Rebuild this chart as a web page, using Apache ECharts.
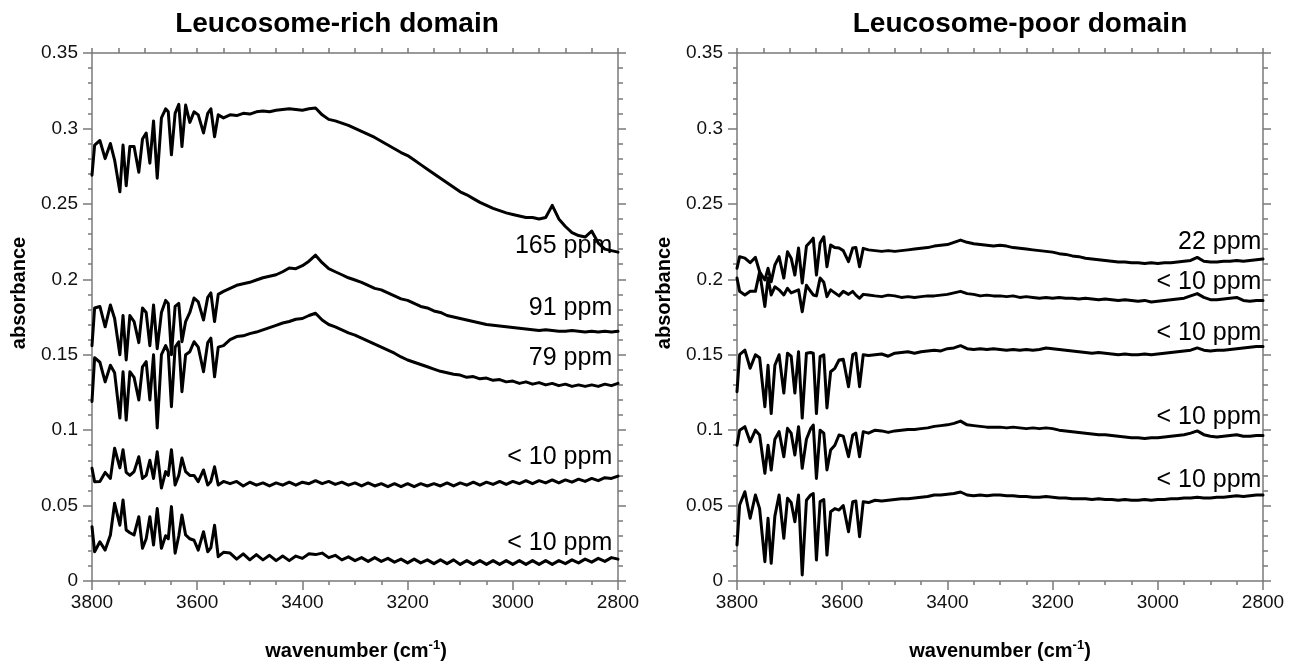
<!DOCTYPE html>
<html>
<head>
<meta charset="utf-8">
<script src="https://cdn.jsdelivr.net/npm/echarts@6/dist/echarts.min.js"></script>
<style>
html,body{margin:0;padding:0;background:#fff;}
#chart{width:1296px;height:664px;}
</style>
</head>
<body>
<div id="chart"></div>
<script>
// Wavenumber grid (cm-1): dense in the water-vapour region, then every 12.5 cm-1
const wavenumber = [
  3800, 3795, 3785, 3775, 3765, 3757, 3747, 3741, 3735, 3728, 3720, 3711, 3704, 3697, 3690, 3683, 3676,
  3668, 3660, 3655, 3649, 3642, 3635, 3629, 3622, 3614, 3606, 3598, 3588, 3580, 3574, 3567, 3560, 3550,
  3537.5, 3525, 3512.5, 3500, 3487.5, 3475, 3462.5, 3450, 3437.5, 3425,
  3412.5, 3400, 3387.5, 3375, 3362.5, 3350, 3337.5, 3325, 3312.5, 3300,
  3287.5, 3275, 3262.5, 3250, 3237.5, 3225, 3212.5, 3200, 3187.5, 3175,
  3162.5, 3150, 3137.5, 3125, 3112.5, 3100, 3087.5, 3075, 3062.5, 3050,
  3037.5, 3025, 3012.5, 3000, 2987.5, 2975, 2962.5, 2950, 2937.5, 2925,
  2912.5, 2900, 2887.5, 2875, 2862.5, 2850, 2837.5, 2825, 2812.5, 2800
];

// ---- Leucosome-rich domain ----
const rich165 = [
  0.269, 0.289, 0.292, 0.280, 0.290, 0.279, 0.258, 0.289, 0.262, 0.288, 0.288, 0.271, 0.293, 0.297, 0.277, 0.305, 0.267,
  0.307, 0.313, 0.311, 0.2825, 0.310, 0.316, 0.288, 0.3155, 0.304, 0.311, 0.309, 0.297, 0.310, 0.313, 0.2945, 0.309, 0.307,
  0.309, 0.3085, 0.310, 0.3095, 0.311, 0.3115, 0.311, 0.312, 0.3125, 0.313,
  0.3125, 0.312, 0.313, 0.3135, 0.309, 0.306, 0.305, 0.3035, 0.302, 0.300,
  0.298, 0.296, 0.294, 0.2915, 0.289, 0.2865, 0.284, 0.282, 0.279, 0.276,
  0.273, 0.270, 0.267, 0.264, 0.261, 0.258, 0.256, 0.2535, 0.251, 0.249,
  0.247, 0.2455, 0.244, 0.243, 0.242, 0.241, 0.241, 0.240, 0.241, 0.249,
  0.240, 0.235, 0.231, 0.229, 0.228, 0.232, 0.224, 0.220, 0.219, 0.218
];
const rich91 = [
  0.156, 0.181, 0.182, 0.1685, 0.183, 0.174, 0.150, 0.176, 0.1465, 0.176, 0.172, 0.158, 0.181, 0.178, 0.156, 0.183, 0.154,
  0.178, 0.186, 0.184, 0.150, 0.182, 0.184, 0.1586, 0.172, 0.178, 0.1876, 0.185, 0.173, 0.188, 0.191, 0.172, 0.190, 0.192,
  0.194, 0.196, 0.197, 0.198, 0.1995, 0.201, 0.202, 0.203, 0.205, 0.2075,
  0.207, 0.209, 0.212, 0.216, 0.211, 0.207, 0.205, 0.203, 0.201, 0.1995,
  0.198, 0.196, 0.194, 0.193, 0.191, 0.189, 0.187, 0.186, 0.184, 0.182,
  0.181, 0.179, 0.178, 0.176, 0.175, 0.174, 0.173, 0.172, 0.171, 0.170,
  0.1695, 0.169, 0.1685, 0.168, 0.1675, 0.167, 0.1665, 0.166, 0.1665, 0.166,
  0.1655, 0.1655, 0.166, 0.1655, 0.165, 0.1655, 0.165, 0.1655, 0.165, 0.1655
];
const rich79 = [
  0.119, 0.148, 0.145, 0.132, 0.143, 0.138, 0.108, 0.1387, 0.1067, 0.1387, 0.135, 0.120, 0.142, 0.1454, 0.120, 0.150, 0.1015,
  0.150, 0.156, 0.152, 0.1155, 0.155, 0.1586, 0.1255, 0.150, 0.152, 0.1586, 0.155, 0.1387, 0.158, 0.161, 0.1354, 0.155, 0.156,
  0.160, 0.162, 0.1625, 0.164, 0.165, 0.1665, 0.168, 0.1695, 0.171, 0.172,
  0.1735, 0.174, 0.176, 0.1775, 0.173, 0.170, 0.1685, 0.1665, 0.1645, 0.163,
  0.161, 0.159, 0.157, 0.155, 0.153, 0.151, 0.1485, 0.1465, 0.145, 0.1435,
  0.142, 0.1405, 0.139, 0.138, 0.137, 0.1365, 0.135, 0.1355, 0.134, 0.1345,
  0.133, 0.1335, 0.132, 0.1325, 0.131, 0.132, 0.1305, 0.1315, 0.130, 0.131,
  0.1295, 0.1305, 0.129, 0.130, 0.129, 0.130, 0.129, 0.1305, 0.1295, 0.131
];
const richLowA = [
  0.0747, 0.0658, 0.066, 0.072, 0.068, 0.088, 0.075, 0.087, 0.072, 0.070, 0.0725, 0.0824, 0.068, 0.070, 0.080, 0.068, 0.0857,
  0.0616, 0.0725, 0.070, 0.087, 0.0636, 0.070, 0.0815, 0.0725, 0.070, 0.070, 0.0658, 0.0736, 0.0636, 0.066, 0.0757, 0.0636, 0.066,
  0.0645, 0.066, 0.063, 0.0655, 0.0635, 0.065, 0.063, 0.065, 0.0635, 0.0655,
  0.0635, 0.0655, 0.0645, 0.0665, 0.0645, 0.066, 0.064, 0.0655, 0.0635, 0.065,
  0.063, 0.065, 0.063, 0.0645, 0.0625, 0.0645, 0.0625, 0.0645, 0.0625, 0.0645,
  0.063, 0.0645, 0.063, 0.065, 0.063, 0.065, 0.0635, 0.0655, 0.0635, 0.0655,
  0.064, 0.066, 0.064, 0.066, 0.0645, 0.0665, 0.0645, 0.0665, 0.065, 0.067,
  0.065, 0.067, 0.0655, 0.0675, 0.066, 0.068, 0.0665, 0.0685, 0.068, 0.0695
];
const richLowB = [
  0.036, 0.0194, 0.026, 0.0205, 0.0305, 0.0515, 0.037, 0.0537, 0.0338, 0.032, 0.0305, 0.0426, 0.0217, 0.028, 0.0426, 0.0239, 0.048,
  0.0217, 0.030, 0.028, 0.0493, 0.0184, 0.030, 0.0437, 0.0305, 0.028, 0.027, 0.0205, 0.0327, 0.0194, 0.022, 0.037, 0.0161, 0.019,
  0.0185, 0.0145, 0.018, 0.014, 0.0175, 0.014, 0.017, 0.0135, 0.0165, 0.0135,
  0.0165, 0.015, 0.018, 0.0175, 0.0185, 0.0155, 0.017, 0.014, 0.016, 0.0135,
  0.0155, 0.013, 0.0155, 0.013, 0.015, 0.0125, 0.0145, 0.012, 0.0145, 0.012,
  0.014, 0.0115, 0.014, 0.0115, 0.014, 0.011, 0.0135, 0.011, 0.0135, 0.011,
  0.0135, 0.011, 0.0135, 0.011, 0.0135, 0.011, 0.0135, 0.011, 0.0135, 0.011,
  0.0135, 0.0115, 0.014, 0.012, 0.0145, 0.0125, 0.015, 0.013, 0.0155, 0.0145
];

// ---- Leucosome-poor domain ----
const poor22 = [
  0.2073, 0.215, 0.214, 0.211, 0.2145, 0.205, 0.1995, 0.2073, 0.1984, 0.2095, 0.215, 0.2008, 0.2183, 0.214, 0.2028, 0.2207, 0.1975,
  0.222, 0.225, 0.2273, 0.2028, 0.224, 0.2282, 0.2083, 0.2227, 0.221, 0.2207, 0.219, 0.2117, 0.2207, 0.221, 0.2083, 0.2205, 0.2195,
  0.219, 0.2185, 0.219, 0.2185, 0.219, 0.2195, 0.220, 0.2205, 0.221, 0.222,
  0.2225, 0.223, 0.2245, 0.226, 0.2245, 0.2235, 0.223, 0.2225, 0.222, 0.2225,
  0.222, 0.221, 0.2205, 0.220, 0.2195, 0.219, 0.2185, 0.218, 0.217, 0.2165,
  0.2155, 0.215, 0.214, 0.2135, 0.213, 0.2125, 0.212, 0.2115, 0.2115, 0.211,
  0.211, 0.2105, 0.211, 0.2105, 0.211, 0.211, 0.2115, 0.212, 0.2125, 0.2145,
  0.212, 0.2115, 0.2115, 0.212, 0.212, 0.2125, 0.212, 0.2125, 0.213, 0.2135
];
const poorLowA = [
  0.2008, 0.192, 0.1896, 0.192, 0.192, 0.205, 0.182, 0.2008, 0.1896, 0.195, 0.193, 0.1896, 0.194, 0.191, 0.192, 0.193, 0.1785,
  0.196, 0.192, 0.1896, 0.189, 0.2008, 0.198, 0.1885, 0.193, 0.191, 0.189, 0.192, 0.190, 0.192, 0.1895, 0.1874, 0.190, 0.1896,
  0.189, 0.1885, 0.1895, 0.189, 0.188, 0.1885, 0.188, 0.1885, 0.189, 0.189,
  0.1895, 0.190, 0.191, 0.192, 0.1905, 0.190, 0.189, 0.1895, 0.189, 0.189,
  0.1885, 0.189, 0.188, 0.1885, 0.188, 0.1875, 0.188, 0.1875, 0.188, 0.1875,
  0.1875, 0.187, 0.1875, 0.187, 0.1865, 0.187, 0.1865, 0.186, 0.1865, 0.186,
  0.1855, 0.186, 0.185, 0.1855, 0.186, 0.1865, 0.187, 0.1875, 0.189, 0.1905,
  0.188, 0.1865, 0.1865, 0.187, 0.1875, 0.188, 0.186, 0.1855, 0.186, 0.186
];
const poorLowB = [
  0.1255, 0.150, 0.153, 0.141, 0.150, 0.148, 0.1155, 0.143, 0.111, 0.143, 0.150, 0.1246, 0.151, 0.149, 0.1246, 0.152, 0.108,
  0.151, 0.1515, 0.151, 0.111, 0.1487, 0.150, 0.1147, 0.1387, 0.141, 0.1465, 0.147, 0.1288, 0.150, 0.151, 0.1288, 0.150, 0.1495,
  0.150, 0.1505, 0.149, 0.151, 0.1515, 0.152, 0.151, 0.152, 0.1525, 0.153,
  0.1525, 0.154, 0.1545, 0.156, 0.154, 0.1535, 0.154, 0.1535, 0.154, 0.1535,
  0.153, 0.1535, 0.153, 0.1535, 0.153, 0.1535, 0.1545, 0.154, 0.1535, 0.153,
  0.1525, 0.152, 0.1515, 0.151, 0.1515, 0.151, 0.1505, 0.150, 0.1505, 0.150,
  0.150, 0.1505, 0.150, 0.1505, 0.151, 0.1515, 0.152, 0.1525, 0.153, 0.1545,
  0.153, 0.1525, 0.153, 0.153, 0.1535, 0.154, 0.1545, 0.155, 0.1555, 0.1555
];
const poorLowC = [
  0.090, 0.100, 0.1023, 0.0923, 0.100, 0.0968, 0.0714, 0.090, 0.0736, 0.094, 0.099, 0.0824, 0.1012, 0.098, 0.0835, 0.1023, 0.0747,
  0.094, 0.101, 0.1034, 0.068, 0.100, 0.098, 0.0736, 0.0868, 0.090, 0.0968, 0.096, 0.0824, 0.0968, 0.098, 0.0824, 0.099, 0.098,
  0.100, 0.0995, 0.0985, 0.0995, 0.100, 0.1005, 0.1005, 0.101, 0.1015, 0.1025,
  0.103, 0.1035, 0.1045, 0.106, 0.1035, 0.103, 0.1025, 0.102, 0.102, 0.102,
  0.1015, 0.102, 0.1015, 0.101, 0.1015, 0.101, 0.1015, 0.101, 0.100, 0.0995,
  0.099, 0.0985, 0.098, 0.0975, 0.097, 0.097, 0.0965, 0.096, 0.0955, 0.095,
  0.095, 0.0945, 0.095, 0.095, 0.0955, 0.096, 0.0965, 0.097, 0.098, 0.0995,
  0.097, 0.096, 0.0955, 0.096, 0.0965, 0.097, 0.096, 0.096, 0.0965, 0.0965
];
const poorLowD = [
  0.0239, 0.0504, 0.0592, 0.0416, 0.057, 0.048, 0.0128, 0.0416, 0.0117, 0.043, 0.057, 0.0283, 0.0548, 0.052, 0.0393, 0.057, 0.004,
  0.0535, 0.057, 0.058, 0.0139, 0.0526, 0.054, 0.0172, 0.0459, 0.048, 0.047, 0.050, 0.0327, 0.0526, 0.053, 0.0294, 0.0526, 0.052,
  0.0535, 0.053, 0.0535, 0.054, 0.0545, 0.0545, 0.055, 0.0555, 0.056, 0.057,
  0.057, 0.0575, 0.058, 0.059, 0.057, 0.0565, 0.057, 0.0565, 0.057, 0.057,
  0.0565, 0.0565, 0.056, 0.056, 0.0555, 0.0555, 0.056, 0.0555, 0.055, 0.055,
  0.0545, 0.0545, 0.0545, 0.054, 0.0545, 0.054, 0.054, 0.0535, 0.054, 0.0535,
  0.0535, 0.054, 0.0535, 0.054, 0.054, 0.0545, 0.0545, 0.055, 0.055, 0.0555,
  0.055, 0.055, 0.0555, 0.0555, 0.056, 0.0565, 0.056, 0.0565, 0.057, 0.057
];

// Titles, labels
const panelTitles = ['Leucosome-rich domain', 'Leucosome-poor domain'];
const richNotes = ['165 ppm', '91 ppm', '79 ppm', '< 10 ppm', '< 10 ppm'];
const richNoteAt = [0.222, 0.181, 0.148, 0.082, 0.025];
const poorNotes = ['22 ppm', '< 10 ppm', '< 10 ppm', '< 10 ppm', '< 10 ppm'];
const poorNoteAt = [0.2244, 0.1984, 0.1644, 0.1084, 0.0666];
const xTicks = [3800, 3600, 3400, 3200, 3000, 2800];
const yTicks = [0, 0.05, 0.1, 0.15, 0.2, 0.25, 0.3, 0.35];

const FONT = '"Liberation Sans", Arial, Helvetica, sans-serif';
const AX = '#7a7a7a';

function pts(vals) { return wavenumber.map((w, i) => [w, vals[i]]); }

function xBottom(g) {
  return {
    gridIndex: g, type: 'value', position: 'bottom',
    min: xTicks[xTicks.length - 1], max: xTicks[0], interval: 200, inverse: true,
    axisLine: { show: true, onZero: false, lineStyle: { color: AX, width: 1.5 } },
    axisTick: { show: true, length: 9, lineStyle: { color: AX, width: 1.5 } },
    minorTick: { show: true, splitNumber: 4, length: 4, lineStyle: { color: AX, width: 1.5 } },
    splitLine: { show: false }, minorSplitLine: { show: false },
    axisLabel: { fontFamily: FONT, fontSize: 19, color: '#111', margin: 12, formatter: v => String(Math.round(v)) }
  };
}
function xTop(g) {
  return {
    gridIndex: g, type: 'value', position: 'top',
    min: 2800, max: 3800, interval: 50, inverse: true,
    axisLine: { show: true, onZero: false, lineStyle: { color: AX, width: 1.5 } },
    axisTick: { show: true, length: 5, lineStyle: { color: AX, width: 1.5 } },
    splitLine: { show: false },
    axisLabel: { show: false }
  };
}
function yLeft(g) {
  return {
    gridIndex: g, type: 'value', position: 'left',
    min: yTicks[0], max: yTicks[yTicks.length - 1], interval: 0.05,
    axisLine: { show: true, onZero: false, lineStyle: { color: AX, width: 1.5 } },
    axisTick: { show: true, length: 9, lineStyle: { color: AX, width: 1.5 } },
    minorTick: { show: true, splitNumber: 5, length: 4, lineStyle: { color: AX, width: 1.5 } },
    splitLine: { show: false }, minorSplitLine: { show: false },
    axisLabel: { fontFamily: FONT, fontSize: 19, color: '#111', margin: 14,
      formatter: v => String(+(+v).toFixed(2)) }
  };
}
function yRight(g) {
  return {
    gridIndex: g, type: 'value', position: 'right',
    min: 0, max: 0.35, interval: 0.05,
    axisLine: { show: true, onZero: false, lineStyle: { color: AX, width: 1.5 } },
    axisTick: { show: true, length: 8, lineStyle: { color: AX, width: 1.5 } },
    minorTick: { show: true, splitNumber: 5, length: 5, lineStyle: { color: AX, width: 1.5 } },
    splitLine: { show: false }, minorSplitLine: { show: false },
    axisLabel: { show: false }
  };
}
function line(vals, ax) {
  return {
    type: 'line', data: pts(vals), xAxisIndex: ax, yAxisIndex: ax,
    symbol: 'none', showSymbol: false, smooth: false, clip: true,
    lineStyle: { color: '#000', width: 3, join: 'round', cap: 'round' }, emphasis: { disabled: true }, z: 3
  };
}

const chart = echarts.init(document.getElementById('chart'), null, { renderer: 'canvas' });
chart.setOption({
  animation: false,
  backgroundColor: '#fff',
  grid: [
    { left: 92, right: 678, top: 53, bottom: 83 },
    { left: 737, right: 33, top: 53, bottom: 83 }
  ],
  xAxis: [xBottom(0), xTop(0), xBottom(1), xTop(1)],
  yAxis: [yLeft(0), yRight(0), yLeft(1), yRight(1)],
  series: [
    line(rich165, 0), line(rich91, 0), line(rich79, 0), line(richLowA, 0), line(richLowB, 0),
    line(poor22, 2), line(poorLowA, 2), line(poorLowB, 2), line(poorLowC, 2), line(poorLowD, 2)
  ]
});

function txt(x, y, text, font, align, extra) {
  const st = Object.assign({ text: text, font: font, fill: '#000',
    align: align, verticalAlign: 'middle', textAlign: align, textVerticalAlign: 'middle' }, extra || {});
  return { type: 'text', x: x, y: y, style: st, silent: true, z: 10 };
}

const gfx = [];
gfx.push(txt(337, 24, panelTitles[0], 'bold 28px ' + FONT, 'center'));
gfx.push(txt(1020, 24, panelTitles[1], 'bold 28px ' + FONT, 'center'));
const absL = txt(19, 293, 'absorbance', 'bold 20px ' + FONT, 'center'); absL.rotation = Math.PI / 2; gfx.push(absL);
const absR = txt(664, 293, 'absorbance', 'bold 20px ' + FONT, 'center'); absR.rotation = Math.PI / 2; gfx.push(absR);
function wnName(x) {
  return {
    type: 'text', x: x, y: 651, silent: true, z: 10,
    style: {
      text: '{a|wavenumber (cm}{s|-1}{a|)}', fill: '#000',
      align: 'center', verticalAlign: 'middle', textAlign: 'center', textVerticalAlign: 'middle',
      rich: {
        a: { font: 'bold 20px ' + FONT, fill: '#000', lineHeight: 24 },
        s: { font: 'bold 13px ' + FONT, fill: '#000', verticalAlign: 'top', textVerticalAlign: 'top', lineHeight: 13 }
      }
    }
  };
}
gfx.push(wnName(356));
gfx.push(wnName(1000));

richNotes.forEach((t, i) => {
  const p = chart.convertToPixel({ xAxisIndex: 0, yAxisIndex: 0 }, [2811, richNoteAt[i]]);
  gfx.push(txt(p[0], p[1], t, '25px ' + FONT, 'right'));
});
poorNotes.forEach((t, i) => {
  const p = chart.convertToPixel({ xAxisIndex: 2, yAxisIndex: 2 }, [2803, poorNoteAt[i]]);
  gfx.push(txt(p[0], p[1], t, '25px ' + FONT, 'right'));
});
chart.setOption({ graphic: gfx });
</script>
</body>
</html>
